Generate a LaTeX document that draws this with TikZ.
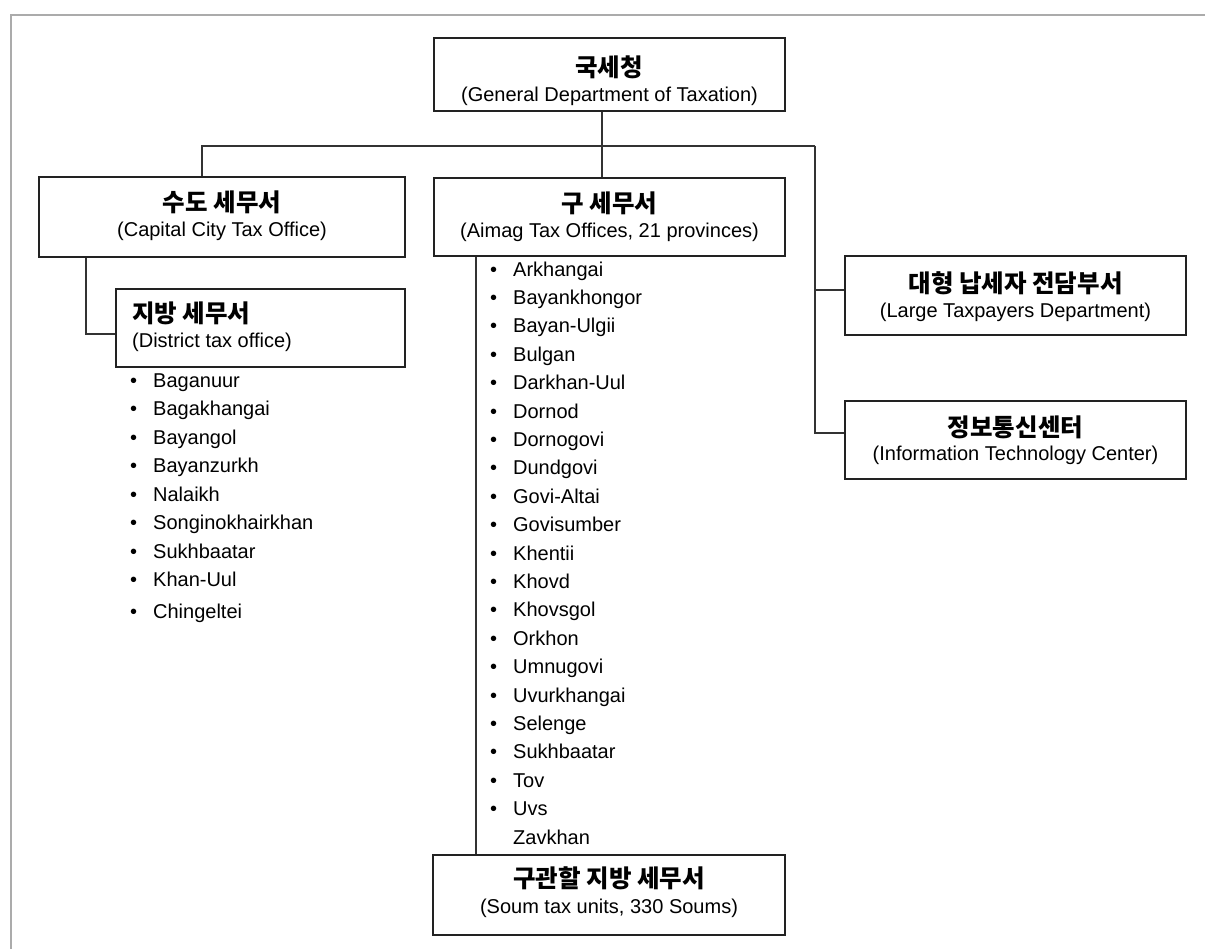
\documentclass[tikz,border=0pt]{standalone}
\usepackage{fontspec}
\setmainfont{Liberation Sans}
\newfontfamily\krfont{Noto Sans CJK KR}
\newcommand\mybul{\makebox[23pt][l]{•}}
\definecolor{boxc}{HTML}{222222}
\definecolor{linec}{HTML}{333333}
\definecolor{framec}{HTML}{ABABAB}
\begin{document}
\begin{tikzpicture}[x=1pt,y=-1pt,
  boxn/.style={draw=boxc, line width=1.7pt, inner sep=0pt},
  kor/.style={font=\krfont\bfseries\fontsize{24.5}{28}\selectfont, inner sep=0pt, text height=20pt, text depth=1.7pt},
  eng/.style={font=\fontsize{20}{24}\selectfont, inner sep=0pt, text height=14.5pt, text depth=4.2pt},
  item/.style={eng, anchor=west},
  conn/.style={draw=linec, line width=1.4pt}]
\useasboundingbox (0,0) rectangle (1205,949);
\draw[framec, line width=2pt] (10.5,949) -- (10.5,15) -- (1205,15);

% boxes
\node[boxn, minimum width=351pt, minimum height=73pt] (top) at (609.5,74.5) {};
\node[boxn, minimum width=351pt, minimum height=78pt] (aimag) at (609.5,217) {};
\node[boxn, minimum width=366pt, minimum height=80pt] (cap) at (222,217) {};
\node[boxn, minimum width=289pt, minimum height=78pt] (dist) at (260.5,328) {};
\node[boxn, minimum width=341pt, minimum height=79pt] (large) at (1015.5,295.5) {};
\node[boxn, minimum width=341pt, minimum height=78pt] (it) at (1015.5,440) {};
\node[boxn, minimum width=352pt, minimum height=80pt] (soum) at (609,895) {};

% box texts
\node[kor] (topk) at (609,67) {국세청};
\node[eng] (tope) at (609.5,96) {(General Department of Taxation)};
\node[kor] (aimagk) at (609.5,203) {구 세무서};
\node[eng] (aimage) at (609.5,232) {(Aimag Tax Offices, 21 provinces)};
\node[kor] (capk) at (222,202) {수도 세무서};
\node[eng] (cape) at (222,231) {(Capital City Tax Office)};
\node[kor, anchor=west] (distk) at (132,313) {지방 세무서};
\node[eng, anchor=west] (diste) at (132,342) {(District tax office)};
\node[kor] (largek) at (1015.5,283) {대형 납세자 전담부서};
\node[eng] (largee) at (1015.5,312) {(Large Taxpayers Department)};
\node[kor] (itk) at (1015.5,427) {정보통신센터};
\node[eng] (ite) at (1015.5,455) {(Information Technology Center)};
\node[kor] (soumk) at (609,878) {구관할 지방 세무서};
\node[eng] (soume) at (609,908) {(Soum tax units, 330 Soums)};

% district list
\foreach \t/\yy [count=\i] in {Baganuur/382, Bagakhangai/410.5, Bayangol/439, Bayanzurkh/467.5, Nalaikh/496, Songinokhairkhan/524.5, Sukhbaatar/553, Khan-Uul/581.5, Chingeltei/613}
  \node[item] (d\i) at (130,\yy) {\mybul\t};

% aimag list
\foreach \t [count=\i from 0] in {Arkhangai, Bayankhongor, Bayan-Ulgii, Bulgan, Darkhan-Uul, Dornod, Dornogovi, Dundgovi, Govi-Altai, Govisumber, Khentii, Khovd, Khovsgol, Orkhon, Umnugovi, Uvurkhangai, Selenge, Sukhbaatar, Tov, Uvs}
  \node[item] (a\i) at (490,{271+28.4*\i}) {\mybul\t};
\node[item] (a20) at (513,839) {Zavkhan};

% connectors
\coordinate (busL) at (202,146);
\coordinate (busR) at (815,146);
\draw[conn] ([xshift=-7.5pt]top.south) -- ([xshift=-7.5pt]aimag.north);
\draw[conn] ([xshift=-20pt]cap.north) -- (busL) -- (busR);
\draw[conn] (busR) |- ([yshift=5.5pt]large.west);
\draw[conn] (busR) |- ([yshift=7pt]it.west);
\draw[conn] ([xshift=-136pt]cap.south) |- ([yshift=-6pt]dist.west);
\draw[conn] ([xshift=-133.5pt]aimag.south) -- ([xshift=-133pt]soum.north);
\end{tikzpicture}
\end{document}
